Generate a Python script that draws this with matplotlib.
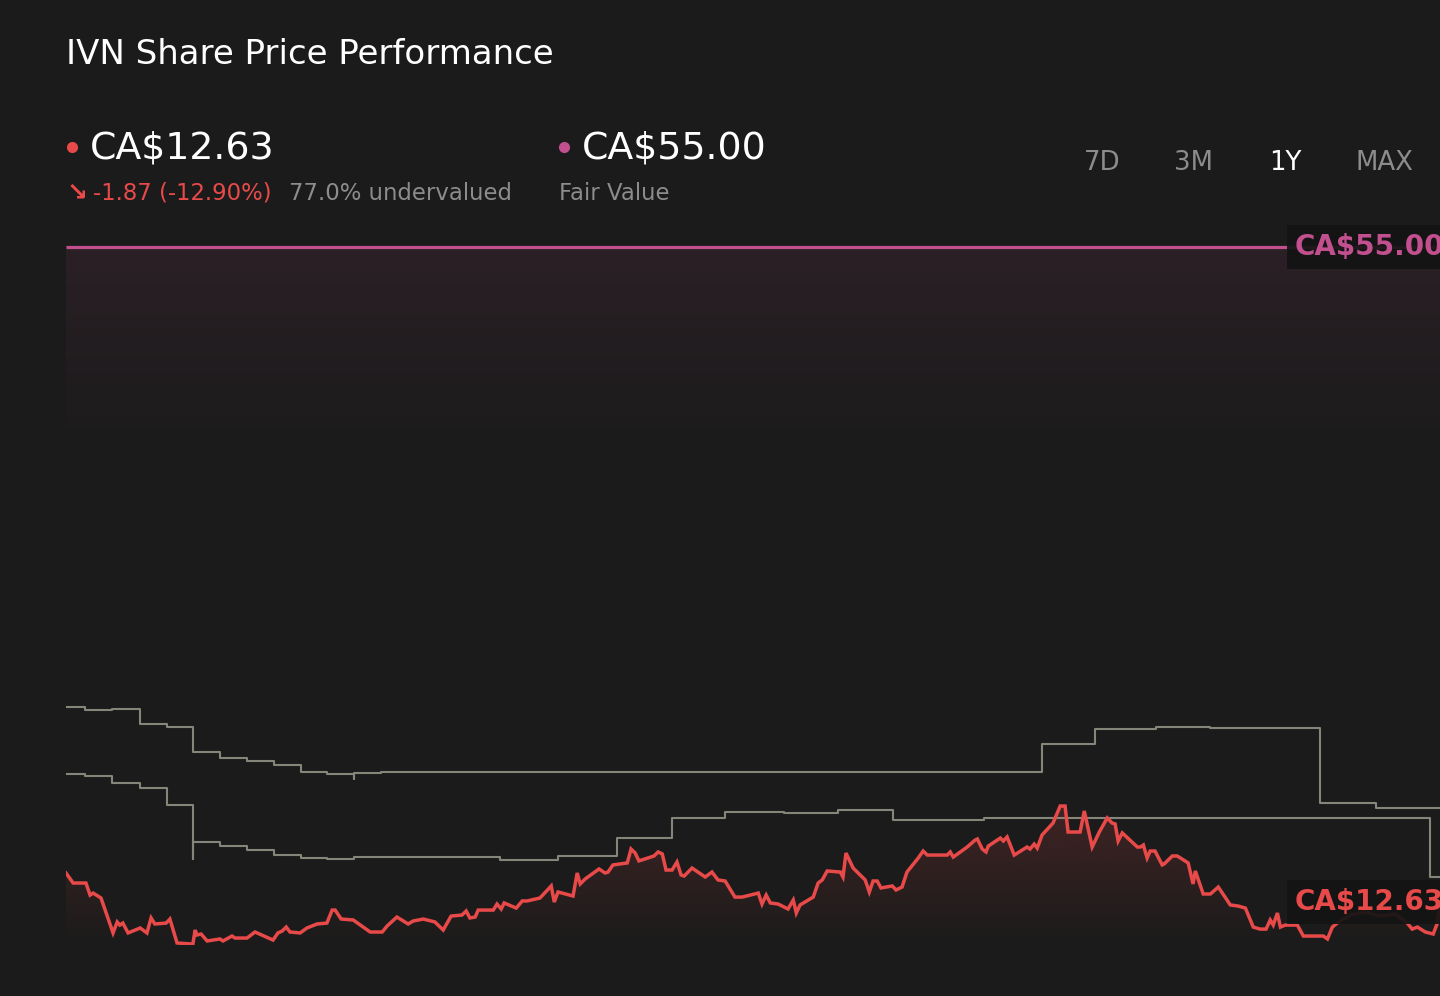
import numpy as np
import matplotlib
matplotlib.use("Agg")
import matplotlib.pyplot as plt
from matplotlib.patches import Polygon
from matplotlib.colors import to_rgb
from matplotlib.lines import Line2D

# ---- data (days since start of the 1Y window, CA$) ----
price_days = [0.0, 1.9, 5.3, 6.4, 7.2, 9.3, 12.5, 13.6, 14.3, 15.1, 16.5, 19.7, 21.5, 22.6, 23.6,
              26.6, 27.6, 29.5, 33.7, 34.3, 34.8, 35.9, 37.5, 40.9, 41.7, 44.1, 44.9, 48.1, 50.2,
              55.0, 56.3, 57.4, 58.5, 59.5, 62.2, 64.0, 66.7, 69.3, 70.7, 71.5, 73.1, 76.3, 80.8,
              84.0, 85.3, 87.9, 90.9, 92.2, 94.9, 98.0, 100.2, 102.3, 105.2, 106.3, 107.3, 108.7,
              109.5, 113.5, 114.5, 115.6, 116.4, 119.6, 121.2, 122.5, 125.9, 128.9, 129.7, 130.7,
              134.7, 135.8, 136.6, 137.9, 141.6, 143.2, 144.0, 145.3, 149.1, 150.1, 151.2, 152.2,
              156.2, 157.3, 158.4, 159.4, 161.0, 162.3, 163.4, 164.2, 166.3, 169.8, 171.6, 173.2,
              175.1, 177.7, 179.6, 183.9, 184.9, 186.0, 187.1, 189.2, 191.8, 193.2, 194.0, 195.0,
              198.5, 199.8, 200.9, 202.2, 205.7, 206.4, 207.2, 209.1, 212.3, 213.4, 214.4, 215.5,
              216.5, 219.5, 220.5, 222.1, 223.4, 226.4, 227.7, 228.8, 234.1, 234.9, 235.7, 239.4,
              241.5, 242.1, 243.4, 244.4, 245.0, 248.2, 249.0, 250.0, 251.9, 255.3, 256.1, 257.2,
              258.0, 259.3, 262.2, 264.1, 265.4, 266.2, 269.4, 270.5, 272.6, 274.5, 276.6, 277.9,
              278.7, 279.5, 280.6, 284.6, 285.4, 286.2, 287.2, 288.0, 289.3, 291.2, 291.7, 293.9,
              295.2, 298.1, 299.4, 300.0, 302.1, 304.0, 306.1, 309.3, 311.4, 313.3, 315.4, 317.2,
              318.8, 319.9, 320.7, 321.8, 322.6, 323.9, 327.1, 328.7, 334.0, 335.1, 336.4, 337.7,
              341.2, 345.1, 349.1, 353.1, 356.3, 357.6, 359.0, 361.1, 363.2, 364.3, 365.0]
price = [14.50, 13.85, 13.85, 13.07, 13.20, 12.88, 10.62, 11.33, 11.13, 11.26, 10.62, 10.94, 10.62,
         11.59, 11.20, 11.26, 11.52, 9.97, 9.90, 10.81, 10.49, 10.55, 10.10, 10.23, 10.10, 10.42,
         10.29, 10.29, 10.68, 10.16, 10.62, 10.74, 11.00, 10.68, 10.62, 10.94, 11.20, 11.26, 12.10,
         12.10, 11.52, 11.46, 10.68, 10.68, 11.07, 11.65, 11.20, 11.39, 11.52, 11.33, 10.81, 11.71,
         11.78, 12.04, 11.59, 11.65, 12.10, 12.10, 12.49, 12.17, 12.56, 12.23, 12.69, 12.69, 12.88,
         13.66, 12.62, 13.27, 13.01, 14.50, 13.79, 14.11, 14.76, 14.50, 14.56, 15.02, 15.15, 16.05,
         15.79, 15.28, 15.60, 15.86, 15.73, 14.69, 14.69, 15.21, 14.37, 14.30, 14.82, 14.24, 14.56,
         14.05, 13.98, 12.94, 12.94, 13.20, 12.49, 13.07, 12.56, 12.49, 12.17, 12.75, 11.91, 12.43,
         12.94, 13.85, 14.05, 14.63, 14.56, 14.24, 15.79, 14.82, 14.05, 13.27, 13.98, 13.98, 13.53,
         13.66, 13.40, 13.59, 14.56, 15.47, 15.92, 15.66, 15.66, 15.86, 15.53, 16.18, 16.63, 16.70,
         16.05, 15.86, 16.24, 16.76, 16.57, 16.83, 15.66, 16.18, 16.05, 16.37, 16.11, 16.96, 17.73,
         18.83, 18.83, 17.15, 17.15, 18.51, 16.18, 17.15, 18.06, 17.73, 17.67, 16.57, 17.09, 16.18,
         16.18, 16.31, 15.47, 15.92, 15.92, 15.02, 15.08, 15.60, 15.60, 15.15, 13.79, 14.63, 13.14,
         13.14, 13.59, 12.43, 12.36, 12.23, 11.00, 10.87, 10.87, 11.46, 11.13, 11.91, 11.00, 11.13,
         11.13, 10.42, 10.42, 10.23, 11.00, 11.26, 11.78, 11.97, 11.71, 11.84, 11.26, 10.87, 11.00,
         10.68, 10.55, 11.26, 12.63]

target_a_days = [0.0, 5.0, 12.2, 19.7, 26.8, 33.7, 40.9, 48.1, 55.3, 62.4, 69.3, 76.5, 76.5, 83.7,
                 259.3, 273.4, 289.6, 304.0, 318.6, 333.2, 348.1, 365.0]
target_a = [25.24, 25.04, 25.11, 24.14, 23.94, 22.33, 21.94, 21.74, 21.49, 21.03, 20.90, 20.58,
            20.97, 21.03, 22.84, 23.81, 23.94, 23.88, 23.88, 19.03, 18.70, 18.70]

target_b_days = [0.0, 5.0, 12.2, 19.7, 26.8, 33.7, 33.7, 40.9, 48.1, 55.3, 62.4, 69.3, 76.5, 115.3,
                 130.7, 146.4, 161.0, 175.1, 190.8, 205.1, 219.7, 243.9, 362.4, 365.0]
target_b = [20.90, 20.77, 20.32, 19.99, 18.90, 15.41, 16.50, 16.24, 15.99, 15.66, 15.47, 15.41,
            15.53, 15.34, 15.60, 16.76, 18.06, 18.44, 18.38, 18.57, 17.93, 18.06, 14.24, 14.24]

fair_value = 55.00
last_price = 12.63

# ---- style ----
BG = "#1b1b1b"
RED = "#e84a4a"
PINK = "#c2508f"
GREY = "#86857a"
W, H = 1440, 996

fig = plt.figure(figsize=(W / 100, H / 100), dpi=100, facecolor=BG)
ax = fig.add_axes([66 / W, (H - 945) / H, 1 - 66 / W, (945 - 230) / H])
ax.set_facecolor("none")
ax.axis("off")
ymin, ymax = 9.84, 56.10
xmax = 365.0

# fair value line + soft pink glow below it
ax.plot([0, xmax], [fair_value, fair_value], color=PINK, lw=2.3, zorder=3, solid_capstyle="butt")
g = np.zeros((256, 1, 4))
g[..., :3] = to_rgb(PINK)
g[..., 3] = (np.linspace(1.0, 0.0, 256) ** 1.6 * 0.10)[:, None]
ax.imshow(g, extent=[0, xmax, 38.0, fair_value], origin="upper", aspect="auto", zorder=1)

# analyst step lines
ax.plot(target_a_days, target_a, drawstyle="steps-post", color=GREY, lw=1.5, zorder=2)
ax.plot(target_b_days, target_b, drawstyle="steps-post", color=GREY, lw=1.5, zorder=2)

# price area with vertical fade
verts = np.column_stack([np.r_[price_days[0], price_days, price_days[-1]],
                         np.r_[ymin, price, ymin]])
poly = Polygon(verts, closed=True, facecolor="none", edgecolor="none")
ax.add_patch(poly)
g2 = np.zeros((256, 1, 4))
g2[..., :3] = to_rgb(RED)
g2[..., 3] = np.linspace(0.20, 0.0, 256)[:, None]
im = ax.imshow(g2, extent=[0, xmax, ymin, 19.5], origin="upper", aspect="auto", zorder=1)
im.set_clip_path(poly)
ax.plot(price_days, price, color=RED, lw=2.5, zorder=4, solid_joinstyle="miter")

ax.set_xlim(0, xmax)
ax.set_ylim(ymin, ymax)

# value tags on the right (cut by the right edge, as in the source)
lbl_x = (1295 - 66) / (W - 66) * xmax
box = dict(boxstyle="square,pad=0.3", facecolor="#141414", edgecolor="none", alpha=0.93)
ax.text(lbl_x, fair_value, "CA$55.00", color=PINK, fontsize=20, fontweight="bold",
        ha="left", va="center", bbox=box, zorder=6, clip_on=False)
ax.text(lbl_x, last_price, "CA$12.63", color=RED, fontsize=20, fontweight="bold",
        ha="left", va="center", bbox=box, zorder=6, clip_on=False)


def ft(x, y, s, **kw):
    fig.text(x / W, 1 - y / H, s, **kw)


# header
ft(66, 54, "IVN Share Price Performance", color="white", fontsize=24.5, va="center")
ft(90, 148, "CA$12.63", color="white", fontsize=27.3, va="center")
ft(582, 148, "CA$55.00", color="white", fontsize=27.3, va="center")
fig.add_artist(Line2D([72 / W], [1 - 147 / H], marker="o", ms=7, color=RED,
                      transform=fig.transFigure))
fig.add_artist(Line2D([564 / W], [1 - 147 / H], marker="o", ms=7, color=PINK,
                      transform=fig.transFigure))
ft(67, 192, "\u2198", color=RED, fontsize=18, fontweight="bold", va="center")
ft(93, 193, "-1.87 (-12.90%)", color=RED, fontsize=16.4, va="center")
ft(289, 193, "77.0% undervalued", color="#8c8c8c", fontsize=16.4, va="center")
ft(559, 193, "Fair Value", color="#8c8c8c", fontsize=16.4, va="center")

for cx, s in zip([1102, 1194, 1285, 1384], ["7D", "3M", "1Y", "MAX"]):
    col = "white" if s == "1Y" else "#8c8c8c"
    ft(cx, 163, s, color=col, fontsize=18.7, ha="center", va="center")

fig.savefig("out.png", dpi=100, facecolor=BG)
